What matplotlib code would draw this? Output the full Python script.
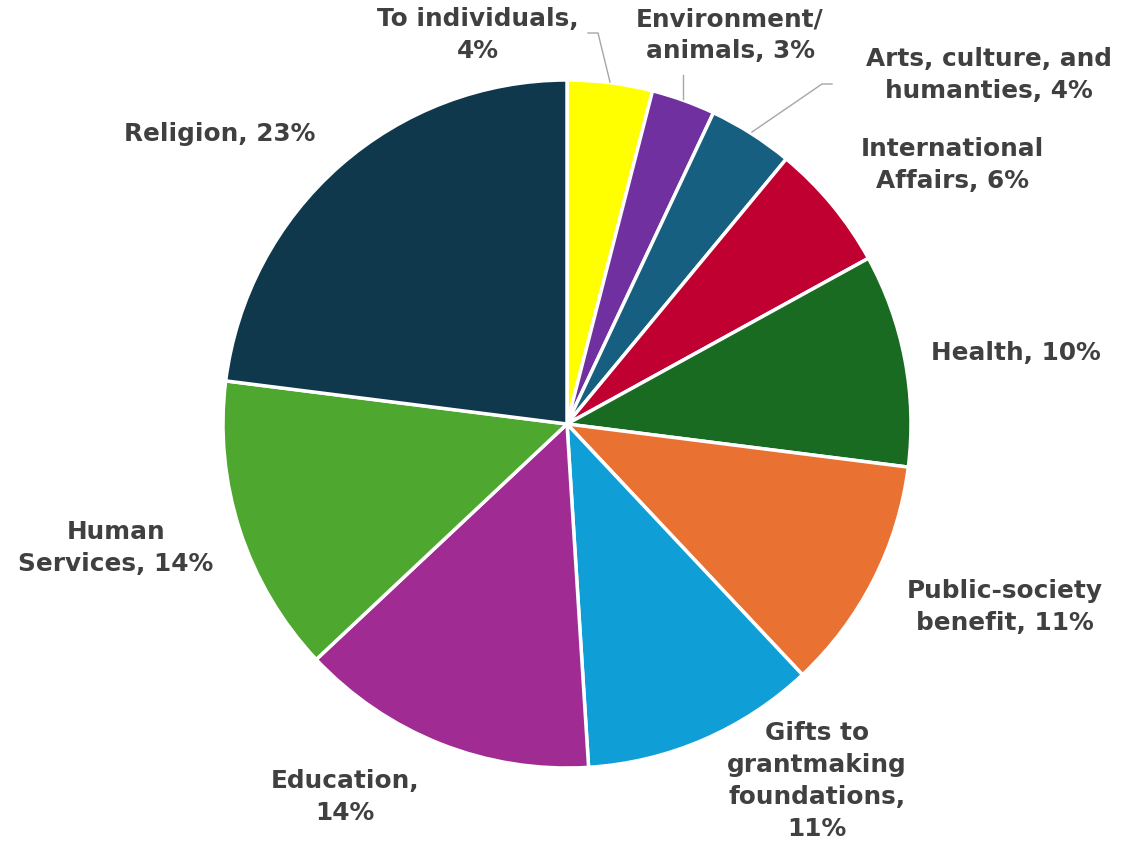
import matplotlib
matplotlib.use('Agg')
import matplotlib.pyplot as plt

# shares of charitable giving by recipient type (percent)
categories = ['To individuals', 'Environment/\nanimals', 'Arts, culture, and\nhumanties',
              'International\nAffairs', 'Health', 'Public-society\nbenefit',
              'Gifts to\ngrantmaking\nfoundations', 'Education', 'Human\nServices', 'Religion']
shares = [4, 3, 4, 6, 10, 11, 11, 14, 14, 23]
colors = ['#FFFF00', '#7030A0', '#165F80', '#C00030', '#1A6B22',
          '#E97132', '#0F9ED5', '#A02B93', '#4EA72E', '#0F384D']

# label text layout: how the "name, pct%" string breaks into lines
label_fmt = ['{},\n{}%', '{}, {}%', '{}, {}%', '{}, {}%', '{}, {}%',
             '{}, {}%', '{},\n{}%', '{},\n{}%', '{}, {}%', '{}, {}%']
# label centres in pixels of the 1145x846 canvas
label_px = [(478, 35), (730, 35), (989, 75), (952, 165), (1016, 353),
            (1005, 607), (817, 781), (345, 797), (116, 548), (220, 134)]

W, H = 1145, 846
CX, CY, R = 567, 424, 344


def to_data(px, py):
    return (px - CX) / R, (CY - py) / R


fig = plt.figure(figsize=(W / 100, H / 100), dpi=100)
ax = fig.add_axes([0, 0, 1, 1])
ax.pie(shares, colors=colors, startangle=90, counterclock=False, radius=1,
       wedgeprops=dict(edgecolor='white', linewidth=2.5))
ax.set_aspect('auto')
ax.set_xlim(-CX / R, (W - CX) / R)
ax.set_ylim((CY - H) / R, CY / R)
ax.axis('off')

for name, val, fmt, (px, py) in zip(categories, shares, label_fmt, label_px):
    x, y = to_data(px, py)
    ax.text(x, y, fmt.format(name, val), ha='center', va='center',
            fontsize=17.8, fontweight='bold', color='#404040',
            family='DejaVu Sans', linespacing=1.42)

# leader lines for the three thin slices at the top
leaders = [[(610, 82), (598, 33), (588, 33)],
           [(683, 99), (683, 75)],
           [(752, 132), (822, 84), (832, 84)]]
for pts in leaders:
    xs, ys = zip(*[to_data(px, py) for px, py in pts])
    ax.plot(xs, ys, color='#A6A6A6', linewidth=1)

fig.savefig('out.png', dpi=100)
